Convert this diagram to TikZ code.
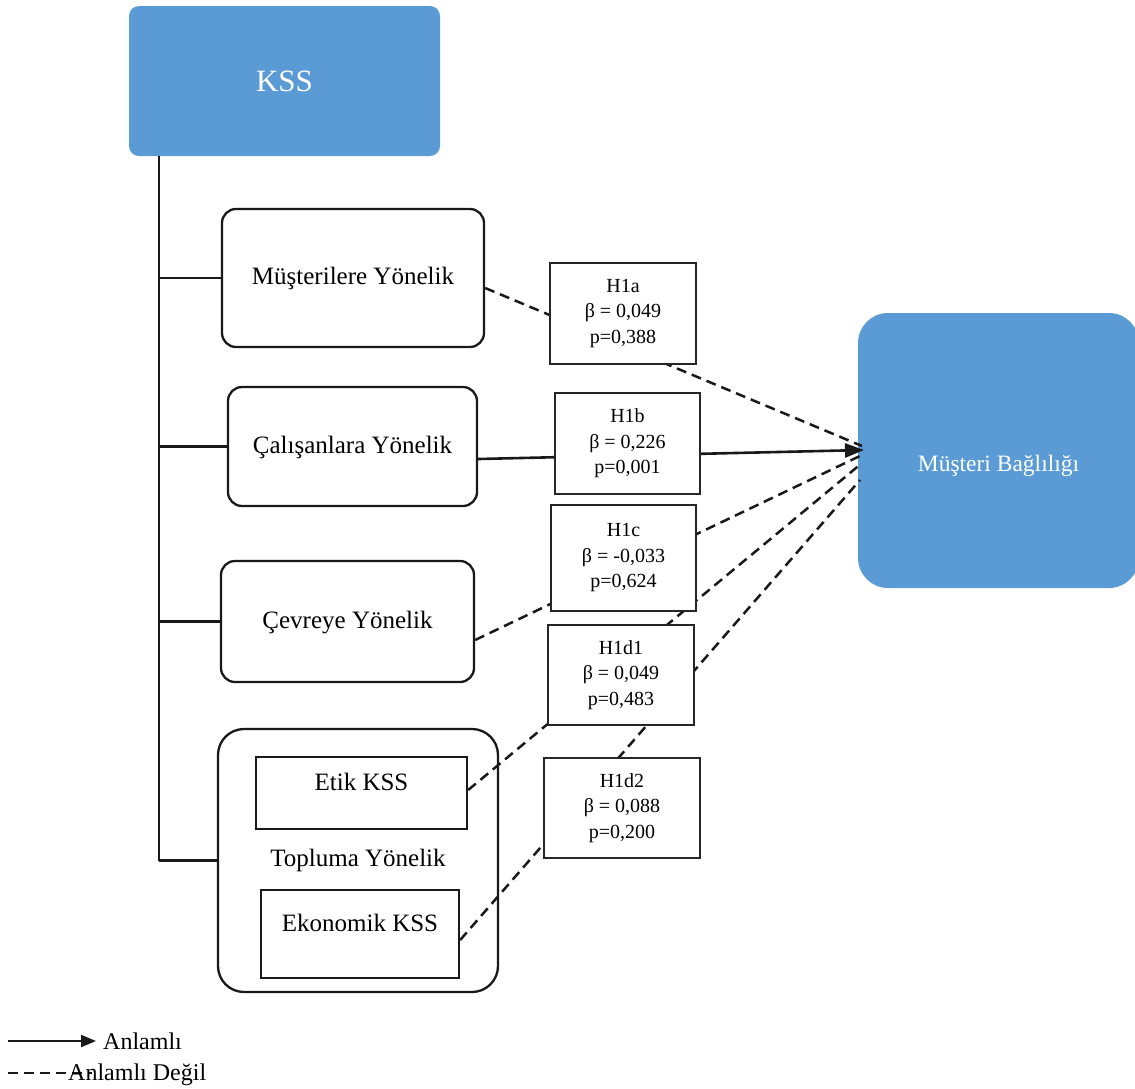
\documentclass[tikz,border=0pt]{standalone}
\usepackage{fontspec}
\setmainfont{Liberation Serif}
\usetikzlibrary{arrows.meta,calc}
\definecolor{boxblue}{RGB}{91,155,213}
\begin{document}
\begin{tikzpicture}[x=1pt,y=-1pt,
  bluebox/.style={fill=boxblue,draw=none,rounded corners=#1,text=white,inner sep=0pt},
  rbox/.style={draw=black!90,line width=2.3pt,rounded corners=#1,fill=white,inner sep=0pt,font=\fontsize{25}{30}\selectfont},
  sqbox/.style={draw=black!90,line width=2.3pt,fill=white,inner sep=0pt,font=\fontsize{25}{30}\selectfont},
  hbox/.style={draw=black!85,line width=1.8pt,fill=white,inner sep=0pt,align=center,font=\fontsize{20}{25.5}\selectfont},
  tree/.style={line width=2.6pt,black!90},
  dashline/.style={line width=2.5pt,black!90,dash pattern=on 10pt off 6pt},
  solidline/.style={line width=2.6pt,black!90},
]
\useasboundingbox (0,0) rectangle (1135,1088);

% top and target boxes
\node[bluebox=10pt,minimum width=311pt,minimum height=150pt,font=\fontsize{31}{36}\selectfont] (kss) at (284.5,81) {KSS};
\node[bluebox=30pt,minimum width=281pt,minimum height=275pt,font=\fontsize{23.5}{28}\selectfont,text height=48pt,text depth=6pt] (mb) at (998.5,450.5) {Müşteri Bağlılığı};

% dimension boxes
\node[rbox=14pt,minimum width=262pt,minimum height=138pt] (mus) at (353,278) {Müşterilere Yönelik};
\node[rbox=14pt,minimum width=249pt,minimum height=119pt,text height=19pt] (cal) at (352.5,446.5) {Çalışanlara Yönelik};
\node[rbox=14pt,minimum width=253pt,minimum height=121pt,text height=19pt] (cev) at (347.5,621.5) {Çevreye Yönelik};
\node[rbox=26pt,minimum width=280pt,minimum height=263pt] (top) at (358,860.5) {Topluma Yönelik};
\node[sqbox,minimum width=211pt,minimum height=72pt,text height=17pt,text depth=22pt] (etik) at (361.5,793) {Etik KSS};
\node[sqbox,minimum width=198pt,minimum height=88pt,text height=17pt,text depth=22pt] (eko) at (360,934) {Ekonomik KSS};

% tree
\coordinate (ttop) at (159,156);
\coordinate (tbot) at (159,860.5);
\draw[tree] (ttop) -- (tbot);
\draw[tree] (mus.west -| ttop) -- (mus.west);
\draw[tree] (cal.west -| ttop) -- (cal.west);
\draw[tree] (cev.west -| ttop) -- (cev.west);
\draw[tree] (top.west -| ttop) -- (top.west);

% connectors
\coordinate (t1) at (862,446);
\coordinate (t2) at (864,450);
\coordinate (t3) at (862,455);
\coordinate (t4) at (862,463);
\coordinate (t5) at (860,480);
\draw[dashline] ($(mus.east)+(0,10)$) -- (t1);
\draw[solidline,-{Triangle[length=19pt,width=14pt]}] ($(cal.east)+(0,12.5)$) -- (t2);
\draw[dashline] ($(cev.east)+(0,18.5)$) -- (t3);
\draw[dashline] ($(etik.east)+(0,-3)$) -- (t4);
\draw[dashline] ($(eko.east)+(0,6)$) -- (t5);

% hypothesis boxes
\node[hbox,minimum width=146pt,minimum height=101pt] (h1a) at (623,313.5) {H1a\\β = 0,049\\p=0,388};
\node[hbox,minimum width=145pt,minimum height=101pt] (h1b) at (627.5,443.5) {H1b\\β = 0,226\\p=0,001};
\node[hbox,minimum width=145pt,minimum height=106pt] (h1c) at (623.5,558) {H1c\\β = -0,033\\p=0,624};
\node[hbox,minimum width=146pt,minimum height=100pt] (h1d1) at (621,675) {H1d1\\β = 0,049\\p=0,483};
\node[hbox,minimum width=156pt,minimum height=100pt] (h1d2) at (622,808) {H1d2\\β = 0,088\\p=0,200};

% legend
\coordinate (la) at (8,1041);
\coordinate (lb) at (96,1041);
\coordinate (lc) at (8,1073);
\coordinate (ld) at (92,1073);
\draw[solidline,line width=2.2pt,-{Triangle[length=15pt,width=12pt]}] (la) -- (lb);
\draw[dashline,line width=2.2pt] (lc) -- (ld);
\node[anchor=west,inner sep=0pt,font=\fontsize{24}{28}\selectfont] (leg1) at (103,1041) {Anlamlı};
\node[anchor=west,inner sep=0pt,font=\fontsize{24}{28}\selectfont] (leg2) at (68,1075) {Anlamlı Değil};
\end{tikzpicture}
\end{document}
